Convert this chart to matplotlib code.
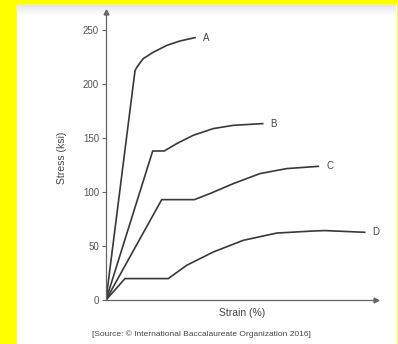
import numpy as np
import matplotlib.pyplot as plt
from matplotlib.colors import LinearSegmentedColormap

plt.rcParams['font.family'] = ['Liberation Sans', 'DejaVu Sans']

# curve data (strain in arbitrary units, stress in ksi)
strain_a = [0, 2.9, 3.07, 3.7, 4.7, 6.1, 7.4, 8.9]
stress_a = [0, 212, 215, 223, 229, 235.5, 239.5, 242.6]

strain_b = [0, 4.67, 5.83, 7.07, 8.73, 10.73, 12.73, 15.67]
stress_b = [0, 137.8, 137.8, 144.6, 152.3, 158.5, 161.5, 163.1]

strain_c = [0, 5.57, 8.83, 10.4, 12.73, 15.4, 18.07, 21.23]
stress_c = [0, 92.8, 92.8, 98.4, 107.6, 116.9, 121.5, 123.6]

strain_d = [0, 1.9, 6.23, 8.07, 10.73, 13.73, 17.07, 20.73, 21.87, 25.87]
stress_d = [0, 19.8, 19.8, 32.1, 44.4, 55.2, 61.9, 63.8, 64.2, 62.6]

curve_names = ['A', 'B', 'C', 'D']
yticks = [0, 50, 100, 150, 200, 250]

fig = plt.figure(figsize=(3.98, 3.44), dpi=100)
fig.patch.set_facecolor('#ffff00')

# white panel on the yellow background
fig.patches.append(plt.Rectangle((17 / 398, 0), 379 / 398, 339 / 344,
                                 transform=fig.transFigure, color='white', zorder=-10))
# faint lavender band at the top of the panel
band = fig.add_axes([17 / 398, 329 / 344, 379 / 398, 10 / 344], zorder=-5)
grad = np.linspace(1, 0, 20).reshape(-1, 1)
band.imshow(grad, aspect='auto', extent=[0, 1, 0, 1],
            cmap=LinearSegmentedColormap.from_list('lav', ['#ffffff', '#e2e2f0']))
band.axis('off')

ax = fig.add_axes([106 / 398, 44 / 344, 270 / 398, 288 / 344])
ax.set_facecolor('none')
col = '#383838'
for xs, ys, name in zip([strain_a, strain_b, strain_c, strain_d],
                        [stress_a, stress_b, stress_c, stress_d], curve_names):
    ax.plot(xs, ys, color=col, lw=1.2, solid_joinstyle='round')
    ax.text(xs[-1] + 0.8, ys[-1], name, fontsize=7, color='#444444',
            ha='left', va='center')

ax.set_xlim(0, 27)
ax.set_ylim(0, 266.3)
for s in ['top', 'right']:
    ax.spines[s].set_visible(False)
for s in ['left', 'bottom']:
    ax.spines[s].set_color('#666666')
    ax.spines[s].set_linewidth(0.9)
ax.plot([0], [266.3], marker='^', color='#666666', ms=3.5, clip_on=False)
ax.plot([27], [0], marker='>', color='#666666', ms=3.5, clip_on=False)

ax.set_xticks([])
ax.set_yticks(yticks)
ax.tick_params(axis='y', length=3, width=0.8, color='#666666',
               labelsize=7, labelcolor='#555555', pad=2)

fig.text(62 / 398, 186 / 344, 'Stress (ksi)', rotation=90, fontsize=7.5,
         color='#444444', ha='center', va='center')
fig.text(242 / 398, 31 / 344, 'Strain (%)', fontsize=7.5, color='#444444',
         ha='center', va='center')
fig.text(201 / 398, 10 / 344,
         '[Source: \u00a9 International Baccalaureate Organization 2016]',
         fontsize=6, color='#444444', ha='center', va='center')

fig.savefig('out.png', dpi=100, facecolor=fig.get_facecolor())
